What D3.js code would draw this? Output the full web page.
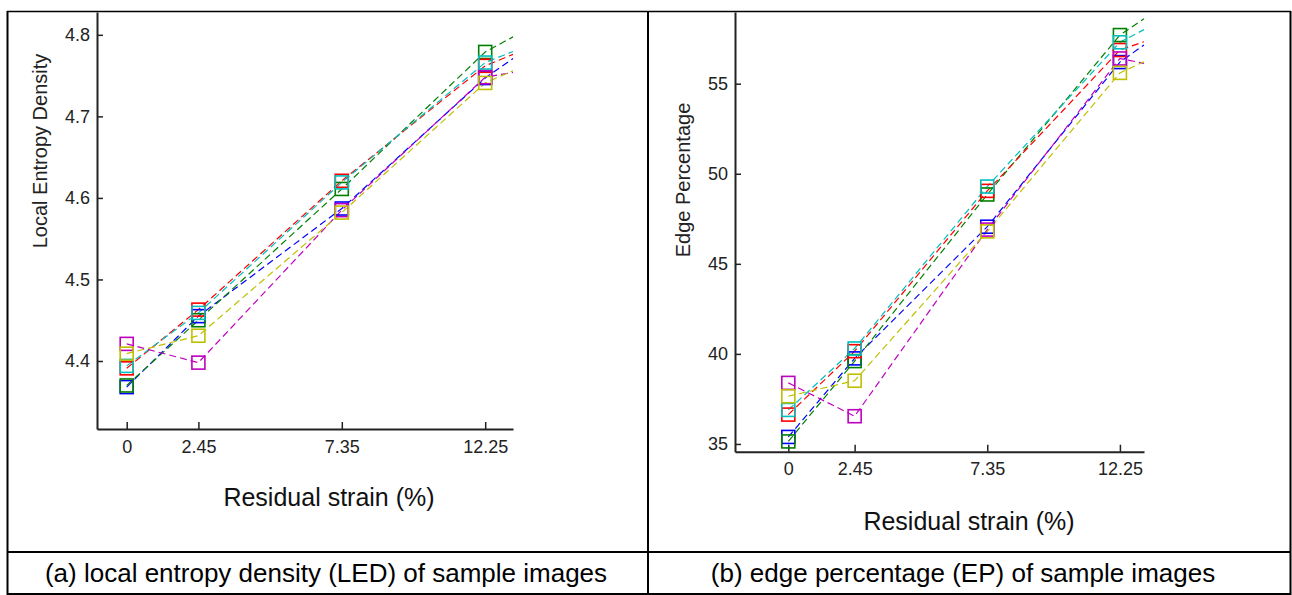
<!DOCTYPE html>
<html><head><meta charset="utf-8">
<script src="https://cdn.jsdelivr.net/npm/d3@7"></script>
<style>
body{margin:0;background:#fff}
text{font-family:"Liberation Sans", Arial, sans-serif}
</style>
</head><body>
<svg id="c" width="1292" height="595"></svg>
<script>
// ---- data ----
const strains = [0, 2.45, 7.35, 12.25];
const strainLabels = ["0", "2.45", "7.35", "12.25"];
const seriesColors = ["#0000ff", "#008000", "#ff0000", "#00bfbf", "#bf00bf", "#bfbf00"];

// Local entropy density (LED) per series: blue, green, red, cyan, magenta, yellow
const ledBlue    = [4.368, 4.455, 4.587, 4.747];
const ledGreen   = [4.370, 4.450, 4.611, 4.779];
const ledRed     = [4.391, 4.463, 4.621, 4.762];
const ledCyan    = [4.394, 4.459, 4.619, 4.766];
const ledMagenta = [4.421, 4.398, 4.585, 4.748];
const ledYellow  = [4.409, 4.431, 4.582, 4.741];
// values where each line leaves the plot at its right edge
const ledEdgeStrain = 13.2;
const ledEdge = [4.771, 4.7975, 4.776, 4.7795, 4.754, 4.756];
const ledTicks = [4.4, 4.5, 4.6, 4.7, 4.8];

// Edge percentage (EP)
const epBlue    = [35.39, 39.75, 47.06, 56.2];
const epGreen   = [35.14, 39.6, 48.85, 57.7];
const epRed     = [36.63, 40.15, 49.05, 56.87];
const epCyan    = [36.89, 40.3, 49.29, 57.3];
const epMagenta = [38.39, 36.54, 46.9, 56.4];
const epYellow  = [37.65, 38.51, 46.8, 55.6];
const epEdgeStrain = 13.14;
const epEdge = [57.15, 58.6, 57.33, 58.0, 56.13, 56.22];
const epTicks = [35, 40, 45, 50, 55];

const captions = ["(a) local entropy density (LED) of sample images", "(b) edge percentage (EP) of sample images"];
const xTitle = "Residual strain (%)";

// ---- drawing ----
const svg = d3.select("#c");
svg.append("rect").attr("width",1292).attr("height",595).attr("fill","#fff");

function panel(cfg){
  const x = d3.scaleLinear().domain(cfg.xDomain).range(cfg.xRange);
  const y = d3.scaleLinear().domain(cfg.yDomain).range(cfg.yRange);
  const g = svg.append("g");

  const ya = g.append("g").attr("transform",`translate(${cfg.xRange[0]},0)`)
    .call(d3.axisLeft(y).tickValues(cfg.yTicks).tickFormat(cfg.yFmt)
      .tickSizeInner(-6).tickSizeOuter(0).tickPadding(cfg.yPad));
  const xa = g.append("g").attr("transform",`translate(0,${cfg.yRange[0]})`)
    .call(d3.axisBottom(x).tickValues(strains).tickFormat((d,i)=>strainLabels[i])
      .tickSizeInner(-7).tickSizeOuter(0).tickPadding(11));
  [ya,xa].forEach(a=>{
    a.select(".domain").attr("stroke","#222").attr("stroke-width",2);
    a.selectAll(".tick line").attr("stroke","#222").attr("stroke-width",1.5);
    a.selectAll("text").attr("fill","#222").attr("font-size",18)
      .attr("font-family","'Liberation Sans', Arial, sans-serif");
  });

  const line = d3.line().x(d=>x(d[0])).y(d=>y(d[1]));
  cfg.series.forEach((vals,i)=>{
    const pts = strains.map((s,j)=>[s, vals[j]]);
    pts.push([cfg.edgeStrain, cfg.edge[i]]);
    g.append("path").datum(pts).attr("d",line)
      .attr("fill","none").attr("stroke",seriesColors[i])
      .attr("stroke-width",1.2).attr("stroke-dasharray","7,4");
  });
  const m = 13;
  cfg.series.forEach((vals,i)=>{
    g.selectAll(null).data(strains.map((s,j)=>[s, vals[j]])).enter()
      .append("rect")
      .attr("x",d=>x(d[0])-m/2).attr("y",d=>y(d[1])-m/2)
      .attr("width",m).attr("height",m)
      .attr("fill","none").attr("stroke",seriesColors[i]).attr("stroke-width",1.6);
  });

  g.append("text").attr("transform",`translate(${cfg.ylabX},${cfg.ylabY}) rotate(-90)`)
    .attr("text-anchor","middle").attr("dominant-baseline","central")
    .attr("font-size",20).attr("fill","#222").text(cfg.yTitle);
  g.append("text").attr("x",cfg.xlabX).attr("y",cfg.xlabY)
    .attr("text-anchor","middle").attr("dominant-baseline","central")
    .attr("font-size",25).attr("fill","#111").text(xTitle);
}

panel({
  xDomain:[-1.015, 13.2], xRange:[97, 513],
  yDomain:[4.3166, 4.828], yRange:[429, 12],
  yTicks: ledTicks, yFmt: d3.format(".1f"), yPad: 7,
  series:[ledBlue, ledGreen, ledRed, ledCyan, ledMagenta, ledYellow],
  edgeStrain: ledEdgeStrain, edge: ledEdge,
  yTitle:"Local Entropy Density", ylabX:40, ylabY:151,
  xlabX:329, xlabY:497
});
panel({
  xDomain:[-1.97, 13.14], xRange:[735, 1144],
  yDomain:[34.57, 58.98], yRange:[451.7, 12],
  yTicks: epTicks, yFmt: d3.format("d"), yPad: 7,
  series:[epBlue, epGreen, epRed, epCyan, epMagenta, epYellow],
  edgeStrain: epEdgeStrain, edge: epEdge,
  yTitle:"Edge Percentage", ylabX:683, ylabY:180,
  xlabX:969, xlabY:521
});

// table borders
const tb = svg.append("g").attr("stroke","#000").attr("fill","none");
tb.append("line").attr("x1",7).attr("x2",1291).attr("y1",11.5).attr("y2",11.5).attr("stroke-width",1.5);
tb.append("line").attr("x1",7.5).attr("x2",7.5).attr("y1",11).attr("y2",595).attr("stroke-width",2);
tb.append("line").attr("x1",648).attr("x2",648).attr("y1",11).attr("y2",595).attr("stroke-width",2);
tb.append("line").attr("x1",1290.5).attr("x2",1290.5).attr("y1",11).attr("y2",595).attr("stroke-width",2);
tb.append("line").attr("x1",7).attr("x2",1291).attr("y1",552).attr("y2",552).attr("stroke-width",2);
tb.append("line").attr("x1",7).attr("x2",1291).attr("y1",594).attr("y2",594).attr("stroke-width",2);

svg.append("text").attr("x",326).attr("y",573).attr("text-anchor","middle")
  .attr("dominant-baseline","central").attr("font-size",26).attr("fill","#000").text(captions[0]);
svg.append("text").attr("x",963).attr("y",573).attr("text-anchor","middle")
  .attr("dominant-baseline","central").attr("font-size",26).attr("fill","#000").text(captions[1]);
</script>
</body></html>
